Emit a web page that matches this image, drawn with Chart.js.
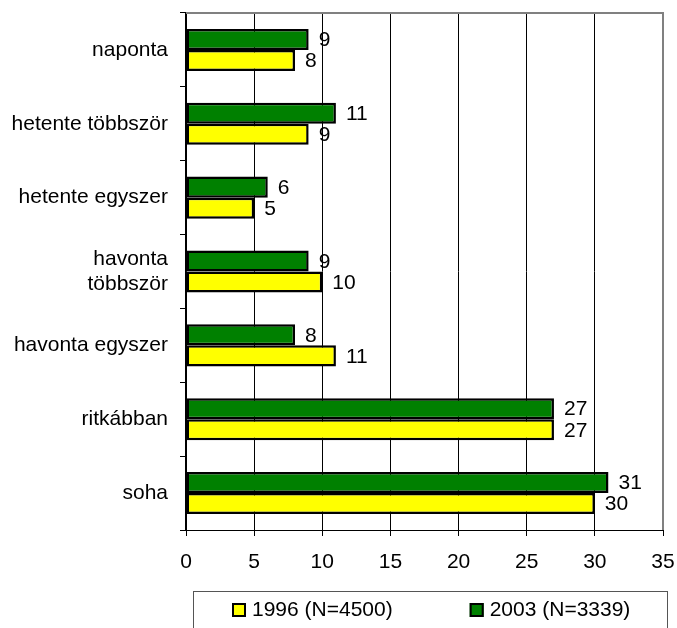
<!DOCTYPE html>
<html>
<head>
<meta charset="utf-8">
<script src="https://cdn.jsdelivr.net/npm/chart.js@4.4.0/dist/chart.umd.min.js"></script>
<style>
    html, body { margin: 0; padding: 0; background: #fff; }
</style>
</head>
<body>
<canvas id="myBarChart" width="677" height="628"></canvas>
<script>
// horizontal grouped bar chart, 1996 vs 2003

const categories = [
    'naponta',
    'hetente többször',
    'hetente egyszer',
    ['havonta', 'többször'],
    'havonta egyszer',
    'ritkábban',
    'soha'
];
const values1996 = [8, 9, 5, 10, 11, 27, 30];
const values2003 = [9, 11, 6, 9, 8, 27, 31];
const xTicks = [0, 5, 10, 15, 20, 25, 30, 35];

const FONT_FAMILY = "'Liberation Sans', Arial, sans-serif";
const FONT_SIZE = 21;

Chart.defaults.font.family = FONT_FAMILY;
Chart.defaults.font.size = FONT_SIZE;
Chart.defaults.color = '#000';

// numbers at the end of each bar
const valueLabels = {
    id: 'valueLabels',
    afterDatasetsDraw(chart) {
        const ctx = chart.ctx;
        ctx.save();
        ctx.font = FONT_SIZE + 'px ' + FONT_FAMILY;
        ctx.fillStyle = '#000';
        ctx.textAlign = 'left';
        ctx.textBaseline = 'middle';
        chart.data.datasets.forEach((ds, i) => {
            chart.getDatasetMeta(i).data.forEach((bar, j) => {
                ctx.fillText(ds.data[j], bar.x + 10, bar.y + 1);
            });
        });
        ctx.restore();
    }
};

// grey top and right border of the plot area
const plotFrame = {
    id: 'plotFrame',
    afterDraw(chart) {
        const {ctx, chartArea: a} = chart;
        ctx.save();
        ctx.strokeStyle = '#808080';
        ctx.lineWidth = 2;
        ctx.beginPath();
        ctx.moveTo(a.left, a.top);
        ctx.lineTo(a.right, a.top);
        ctx.lineTo(a.right, a.bottom);
        ctx.stroke();
        ctx.restore();
    }
};

// boxed legend below the chart, 1996 first
const boxedLegend = {
    id: 'boxedLegend',
    afterDraw(chart) {
        const {ctx, chartArea: a} = chart;
        const top = a.bottom + 61;
        ctx.save();
        ctx.strokeStyle = '#555';
        ctx.lineWidth = 1;
        ctx.strokeRect(193.5, top + 0.5, 474, 60);

        ctx.font = FONT_SIZE + 'px ' + FONT_FAMILY;
        ctx.textAlign = 'left';
        ctx.textBaseline = 'middle';
        let x = 232;
        const y = top + 19;
        const items = chart.data.datasets.slice().reverse();
        items.forEach(ds => {
            ctx.fillStyle = ds.backgroundColor;
            ctx.fillRect(x, y - 7, 14, 14);
            ctx.strokeStyle = '#000';
            ctx.lineWidth = 2;
            ctx.strokeRect(x + 1, y - 6, 12, 12);
            ctx.fillStyle = '#000';
            ctx.fillText(ds.label, x + 20, y);
            x += 20 + ctx.measureText(ds.label).width + 77;
        });
        ctx.restore();
    }
};

const barChart = () => {
    const data = {
        labels: categories,
        datasets: [
            {
                label: '2003 (N=3339)',
                data: values2003,
                backgroundColor: '#008000',
                borderColor: '#000',
                borderWidth: 2.5,
                borderSkipped: false
            },
            {
                label: '1996 (N=4500)',
                data: values1996,
                backgroundColor: '#FFFF00',
                borderColor: '#000',
                borderWidth: 2.5,
                borderSkipped: false
            }
        ]
    };
    const config = {
        type: 'bar',
        data: data,
        options: {
            indexAxis: 'y',
            responsive: false,
            animation: false,
            categoryPercentage: 0.57,
            barPercentage: 1,
            layout: {
                padding: { top: 13, right: 14, bottom: 53, left: 0 }
            },
            scales: {
                x: {
                    min: 0,
                    max: 35,
                    afterBuildTicks: scale => {
                        scale.ticks = xTicks.map(v => ({ value: v }));
                    },
                    afterFit: scale => {
                        scale.height = 45;
                        scale.paddingLeft = 0;
                        scale.paddingRight = 0;
                    },
                    ticks: { padding: 14, color: '#000' },
                    grid: {
                        color: '#000',
                        lineWidth: 1,
                        tickLength: 6
                    },
                    border: { color: '#000', width: 1 }
                },
                y: {
                    afterFit: scale => {
                        scale.width = 186;
                        scale.paddingTop = 0;
                        scale.paddingBottom = 0;
                    },
                    ticks: { padding: 12, color: '#000' },
                    grid: {
                        drawOnChartArea: false,
                        drawTicks: true,
                        tickLength: 6,
                        color: '#000'
                    },
                    border: { color: '#000', width: 1.5 }
                }
            },
            plugins: {
                legend: { display: false },
                tooltip: { enabled: false }
            }
        },
        plugins: [valueLabels, plotFrame, boxedLegend]
    };
    const ctx = document.getElementById('myBarChart');
    new Chart(ctx, config);
};

barChart();
</script>
</body>
</html>
